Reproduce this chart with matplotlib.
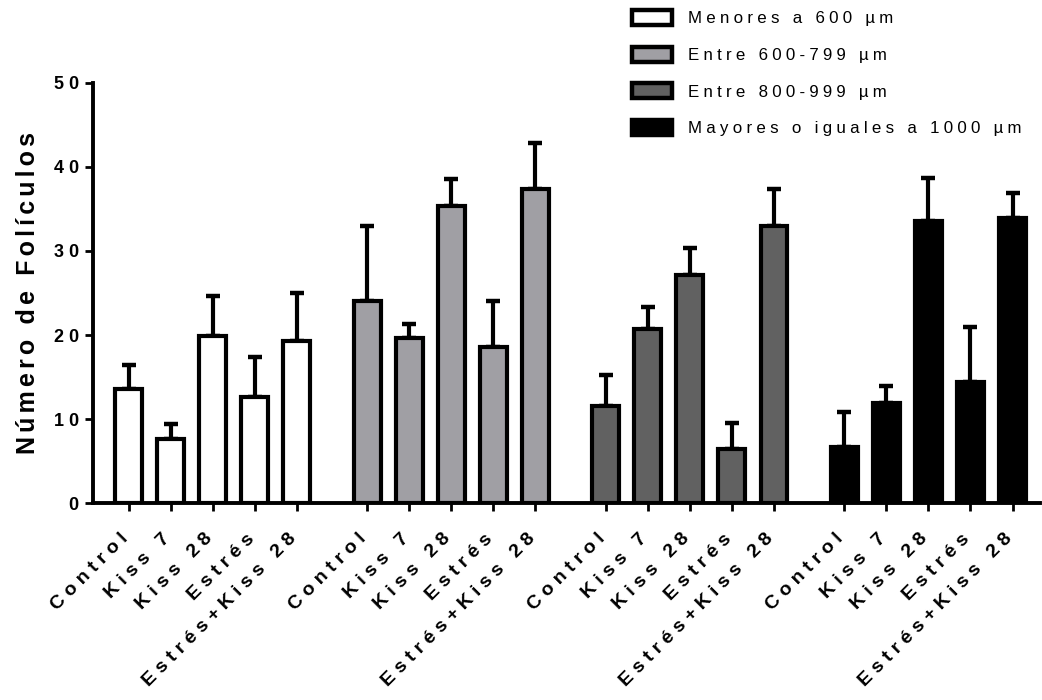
import numpy as np
import matplotlib
matplotlib.use("Agg")
import matplotlib.pyplot as plt
from matplotlib.patches import Patch

plt.rcParams['font.family'] = ['Liberation Sans', 'DejaVu Sans']

# data
categories = ["Control", "Kiss 7", "Kiss 28", "Estrés", "Estrés+Kiss 28"]
series = ["Menores a 600 µm", "Entre 600-799 µm", "Entre 800-999 µm",
          "Mayores o iguales a 1000 µm"]
means_600 = [13.6, 7.7, 19.9, 12.6, 19.3]
sem_600 = [2.8, 1.7, 4.7, 4.8, 5.7]
means_600_799 = [24.0, 19.7, 35.3, 18.6, 37.3]
sem_600_799 = [9.0, 1.6, 3.3, 5.4, 5.5]
means_800_999 = [11.6, 20.7, 27.1, 6.5, 32.9]
sem_800_999 = [3.7, 2.6, 3.2, 3.1, 4.4]
means_1000 = [6.7, 11.9, 33.5, 14.4, 33.9]
sem_1000 = [4.2, 2.1, 5.2, 6.5, 3.0]

means = [means_600, means_600_799, means_800_999, means_1000]
sems = [sem_600, sem_600_799, sem_800_999, sem_1000]
colors = ["white", "#a09fa4", "#616161", "black"]


def spaced(s, sep=" "):
    # GraphPad-like letter spacing
    return sep.join(s)


fig = plt.figure(figsize=(10.42, 7.0), dpi=100)
ax = fig.add_axes([0.089, 0.281, 0.909, 0.601])

group_step = 5.67
xpos, xlabels = [], []
for g in range(len(series)):
    x = g * group_step + np.arange(len(categories))
    ax.errorbar(x, means[g], yerr=[np.zeros(len(x)), sems[g]], fmt='none',
                ecolor='black', elinewidth=3.0, capsize=5, capthick=3.2,
                zorder=1)
    ax.bar(x, means[g], width=0.64, color=colors[g], edgecolor='black',
           linewidth=3.0, zorder=2)
    xpos.extend(x)
    xlabels.extend(categories)

ax.set_xlim(-0.85, 21.66)
ax.set_ylim(0, 50)
ax.set_yticks([0, 10, 20, 30, 40, 50])
ax.set_yticklabels([spaced(str(v)) for v in [0, 10, 20, 30, 40, 50]],
                   fontsize=13, fontweight='bold')
ax.set_xticks(xpos)
ax.set_xticklabels([spaced(c) for c in xlabels], rotation=45, ha='right',
                   va='baseline', rotation_mode='anchor', fontsize=14,
                   fontweight='bold')
ax.tick_params(axis='x', length=6, width=2.0, pad=20)
ax.tick_params(axis='y', length=6, width=2.0, pad=4)

for side in ['top', 'right']:
    ax.spines[side].set_visible(False)
for side in ['left', 'bottom']:
    ax.spines[side].set_linewidth(2.8)

ax.set_ylabel(spaced("Número de Folículos", "\u2006"), fontsize=18,
              fontweight='bold', labelpad=10)

handles = [Patch(facecolor=c, edgecolor='black', linewidth=3.2) for c in colors]
fig.legend(handles, [spaced(s, "\u2005") for s in series], loc='upper left',
           bbox_to_anchor=(0.607, 0.986), frameon=False, fontsize=12.2,
           handlelength=2.35, handleheight=1.0, handletextpad=0.95,
           labelspacing=1.2, borderpad=0, borderaxespad=0)

fig.savefig("out.png", dpi=100)
